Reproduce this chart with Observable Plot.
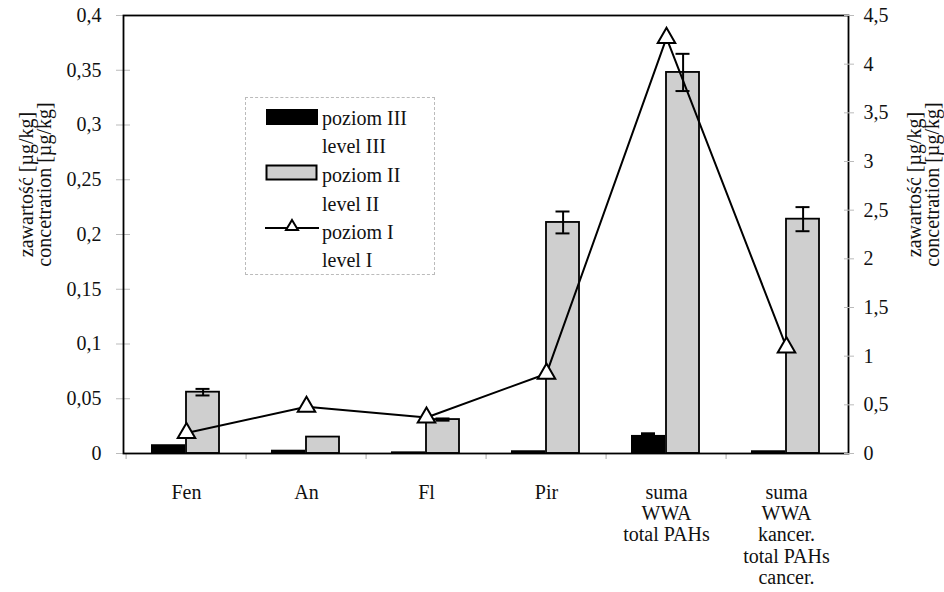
<!DOCTYPE html>
<html>
<head>
<meta charset="utf-8">
<script src="https://cdn.jsdelivr.net/npm/d3@7"></script>
<script src="https://cdn.jsdelivr.net/npm/@observablehq/plot@0.6"></script>
<style>
  body { margin: 0; background: white; }
  #wrap { position: relative; width: 944px; height: 592px; font-family: "Liberation Serif", "Times New Roman", serif; }
  #wrap svg { position: absolute; left: 0; top: 0; }
  #legend { position: absolute; left: 245px; top: 97px; width: 190px; height: 178px; border: 1px dashed #bbb; box-sizing: border-box; background: white; }
  #legend .t { position: absolute; left: 76px; font-size: 20px; line-height: 20px; white-space: nowrap; color: #111; }
  #legend svg { position: absolute; }
</style>
</head>
<body>
<div id="wrap"></div>
<script>
// ---- data ----
const categories = ["Fen", "An", "Fl", "Pir", "suma\nWWA\ntotal PAHs", "suma\nWWA\nkancer.\ntotal PAHs\ncancer."];
const levelIII = [0.008, 0.003, 0.0015, 0.0025, 0.0165, 0.0025];
const errorIII = [0, 0, 0, 0, 0.0015, 0];
const levelII = [0.056, 0.015, 0.031, 0.211, 0.348, 0.214];
const errorII = [0.003, 0, 0.001, 0.01, 0.017, 0.011];
const levelI = [0.21, 0.48, 0.37, 0.82, 4.27, 1.09];
const leftTicks = [0, 0.05, 0.1, 0.15, 0.2, 0.25, 0.3, 0.35, 0.4];
const rightTicks = [0, 0.5, 1, 1.5, 2, 2.5, 3, 3.5, 4, 4.5];
const axisLabel = "zawartość [µg/kg]\nconcetration [µg/kg]";
const legendItems = ["poziom III", "level III", "poziom II", "level II", "poziom I", "level I"];

const rows = categories.map((c, i) => ({cat: c, iii: levelIII[i], eiii: errorIII[i], ii: levelII[i], eii: errorII[i], i1: levelI[i]}));
const fmt = d => String(d).replace(".", ",");
const blank = () => "";

const W = 944, H = 592, ML = 123, MR = 96, MT = 15, MB = 139;
const step = (W - ML - MR) / categories.length;
const font = {fontFamily: "Liberation Serif, Times New Roman, serif", fontSize: "20px", background: "transparent", color: "#111"};

const p1 = Plot.plot({
  width: W, height: H, marginLeft: ML, marginRight: MR, marginTop: MT, marginBottom: MB,
  style: font,
  x: {domain: categories, padding: 0, axis: null},
  y: {domain: [0, 0.4], axis: null},
  marks: [
    Plot.axisY(leftTicks, {anchor: "left", tickSize: 14, dx: 7, stroke: "#bbb", tickFormat: blank, label: null}),
    Plot.axisY(leftTicks, {anchor: "left", tickSize: 0, tickPadding: 22, tickFormat: fmt, label: null}),
    Plot.axisX({tickSize: 6, dx: -step / 2, stroke: "#aaa", tickFormat: blank, label: null}),
    Plot.axisX({tickSize: 0, tickPadding: 30, lineHeight: 1.07, label: null}),
    Plot.barY(rows, {x: "cat", y: "iii", fill: "#000", insetLeft: 25, insetRight: 61}),
    Plot.barY(rows, {x: "cat", y: "ii", fill: "#cfcfcf", stroke: "#000", strokeWidth: 1.8, insetLeft: 60, insetRight: 27}),
    Plot.ruleX(rows.filter(d => d.eii > 0), {x: "cat", y1: d => d.ii - d.eii, y2: d => d.ii + d.eii, dx: 16.6, stroke: "#000", strokeWidth: 2}),
    Plot.tickY(rows.filter(d => d.eii > 0), {x: "cat", y: d => d.ii + d.eii, insetLeft: 69.5, insetRight: 36.5, stroke: "#000", strokeWidth: 2}),
    Plot.tickY(rows.filter(d => d.eii > 0), {x: "cat", y: d => d.ii - d.eii, insetLeft: 69.5, insetRight: 36.5, stroke: "#000", strokeWidth: 2}),
    Plot.tickY(rows.filter(d => d.eiii > 0), {x: "cat", y: d => d.iii + d.eiii, insetLeft: 35, insetRight: 71, stroke: "#000", strokeWidth: 3}),
    Plot.frame({stroke: "#000", strokeWidth: 1.8}),
    Plot.text([axisLabel], {frameAnchor: "left", textAnchor: "middle", lineAnchor: "middle", rotate: -90, dx: -87, dy: -50, text: d => d, lineHeight: 0.9, fill: "#111"})
  ]
});

const p2 = Plot.plot({
  width: W, height: H, marginLeft: ML, marginRight: MR, marginTop: MT, marginBottom: MB,
  style: font,
  x: {type: "point", domain: categories, padding: 0.5, axis: null},
  y: {domain: [0, 4.5], axis: null},
  marks: [
    Plot.axisY(rightTicks, {anchor: "right", tickSize: 10, dx: -5, stroke: "#bbb", tickFormat: blank, label: null}),
    Plot.axisY(rightTicks, {anchor: "right", tickSize: 0, tickPadding: 15, tickFormat: fmt, label: null}),
    Plot.line(rows, {x: "cat", y: "i1", stroke: "#000", strokeWidth: 2}),
    Plot.dot(rows, {x: "cat", y: "i1", symbol: "triangle", r: 6.5, fill: "white", stroke: "#000", strokeWidth: 2}),
    Plot.text([axisLabel], {frameAnchor: "right", textAnchor: "middle", lineAnchor: "middle", rotate: -90, dx: 76, dy: -50, text: d => d, lineHeight: 0.9, fill: "#111"})
  ]
});

const wrap = document.getElementById("wrap");
wrap.appendChild(p1);
wrap.appendChild(p2);

// ---- legend ----
const lg = document.createElement("div");
lg.id = "legend";
const tops = [10, 38, 67, 96, 124, 152];
legendItems.forEach((t, i) => {
  const s = document.createElement("div");
  s.className = "t";
  s.style.top = tops[i] + "px";
  s.textContent = t;
  lg.appendChild(s);
});
const sw = (html, top) => {
  const e = document.createElementNS("http://www.w3.org/2000/svg", "svg");
  e.setAttribute("width", 54); e.setAttribute("height", 18);
  e.style.left = "19px"; e.style.top = top + "px";
  e.innerHTML = html;
  lg.appendChild(e);
};
sw('<rect x="1" y="1" width="52" height="16" fill="#000"/>', 10);
sw('<rect x="1.5" y="1.5" width="50" height="14" fill="#cfcfcf" stroke="#000" stroke-width="2"/>', 66);
sw('<line x1="0" y1="12" x2="54" y2="12" stroke="#000" stroke-width="2"/><path d="M27,4 L33,14 L21,14 Z" fill="white" stroke="#000" stroke-width="2"/>', 118);
wrap.appendChild(lg);
</script>
</body>
</html>
